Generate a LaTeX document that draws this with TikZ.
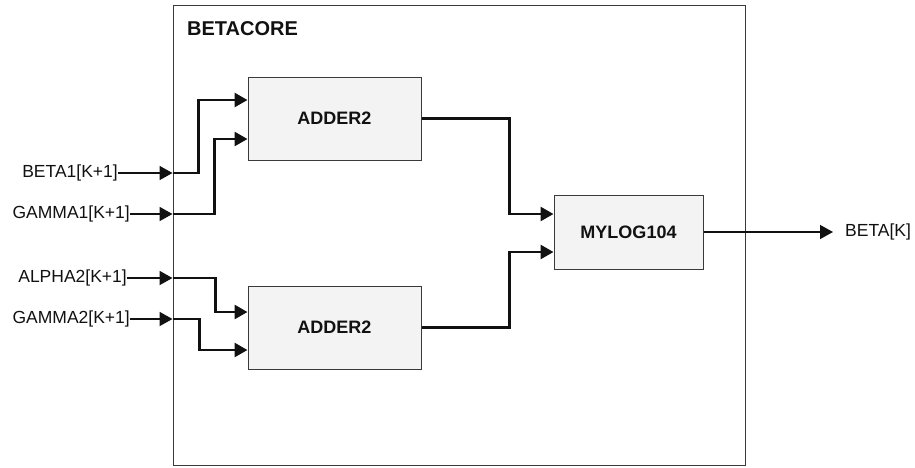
\documentclass[tikz,border=0pt]{standalone}
\usepackage{fontspec}
\setsansfont{Liberation Sans}
\usetikzlibrary{arrows.meta,positioning,calc}
\definecolor{ink}{HTML}{111111}
\definecolor{frame}{HTML}{3A3A3A}
\definecolor{blockfill}{HTML}{F3F3F3}
\tikzset{
  block/.style={draw=frame,line width=1pt,fill=blockfill,
    minimum width=173pt,minimum height=83pt,text=ink,
    font=\sffamily\bfseries\fontsize{18}{20}\selectfont},
  sig/.style={font=\sffamily\fontsize{17.5}{20}\selectfont,text=ink,inner sep=0pt},
  wire/.style={draw=ink,line width=2.6pt,-{Triangle[length=13pt,width=14pt]}},
  lead/.style={draw=ink,line width=1.8pt,-{Triangle[length=13pt,width=14pt]}}
}

\begin{document}
\begin{tikzpicture}[x=1pt,y=-1pt]
  \useasboundingbox (0,0) rectangle (915,467);
  % outer core
  \node[draw=frame,line width=1pt,minimum width=572pt,minimum height=460pt,
        inner sep=0pt] (core) at (459,235) {};
  \node[anchor=base west,inner sep=0pt,text=ink,
        font=\sffamily\bfseries\fontsize{20}{22}\selectfont] (title) at (187,35) {BETACORE};
  % blocks
  \node[block] (addA) at (334.5,118.5) {ADDER2};
  \node[block] (addB) at (334.5,327.5) {ADDER2};
  \node[block,minimum width=149pt,minimum height=74pt] (mylog) at (628.5,232) {MYLOG104};
  % inputs
  \node[sig,anchor=east] (beta1)  at (118,173) {BETA1[K+1]};
  \node[sig,anchor=east] (gamma1) at (130,214) {GAMMA1[K+1]};
  \node[sig,anchor=east] (alpha2) at (127,278) {ALPHA2[K+1]};
  \node[sig,anchor=east] (gamma2) at (130,319) {GAMMA2[K+1]};
  \foreach \s/\p in {beta1/pA,gamma1/pB,alpha2/pC,gamma2/pD}
    \draw[lead] (\s.east) -- (core.west |- \s.east) coordinate (\p);
  \draw[wire] (pA) -- ++(26,0) |- ([yshift=18.5pt]addA.west);
  \draw[wire] (pB) -- ++(42,0) |- ([yshift=-20.5pt]addA.west);
  \draw[wire] (pC) -- ++(43,0) |- ([yshift=15.5pt]addB.west);
  \draw[wire] (pD) -- ++(27,0) |- ([yshift=-22.5pt]addB.west);
  % adders to mylog
  \draw[wire] (addA.east) -- ++(88,0) |- ([yshift=18pt]mylog.west);
  \draw[wire] (addB.east) -- ++(88,0) |- ([yshift=-20pt]mylog.west);
  % output
  \node[sig,anchor=west] (beta) at (845,232) {BETA[K]};
  \draw[lead,line width=1.4pt,shorten >=12pt] (mylog.east) -- (beta.west);
\end{tikzpicture}
\end{document}
